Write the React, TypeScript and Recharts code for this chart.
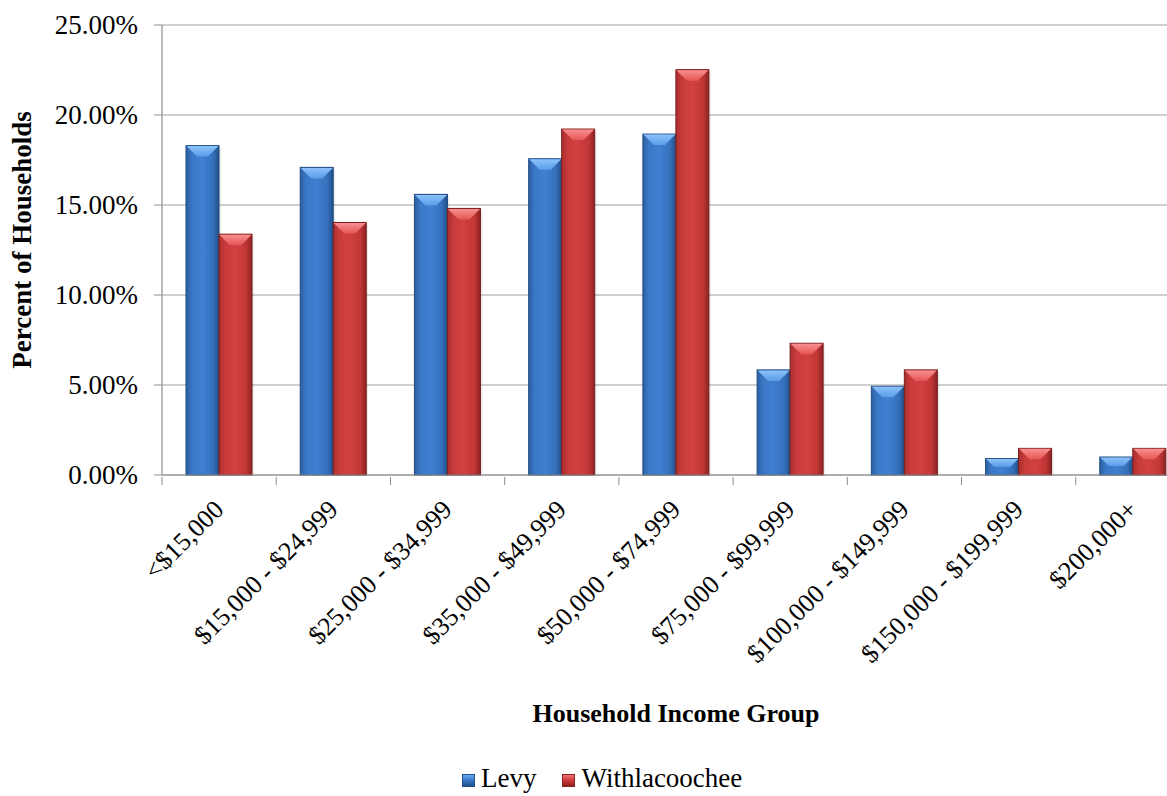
import { BarChart, Bar, XAxis, YAxis, CartesianGrid, Label } from "recharts"

const categories = [
  "<$15,000",
  "$15,000 - $24,999",
  "$25,000 - $34,999",
  "$35,000 - $49,999",
  "$50,000 - $74,999",
  "$75,000 - $99,999",
  "$100,000 - $149,999",
  "$150,000 - $199,999",
  "$200,000+",
]
const levy = [18.3, 17.09, 15.59, 17.57, 18.94, 5.84, 4.93, 0.91, 1.0]
const withlacoochee = [13.38, 14.03, 14.81, 19.22, 22.52, 7.32, 5.84, 1.48, 1.48]
const yTicks = [0, 5, 10, 15, 20, 25]

const data = categories.map((category, i) => ({
  category,
  levy: levy[i],
  withlacoochee: withlacoochee[i],
}))

const serif = "'Liberation Serif', 'Times New Roman', serif"

const CHART_W = 1230
const CHART_H = 796
const MARGIN = { top: 25, right: 40, bottom: 0, left: 0 }
const Y_AXIS_W = 162
const step = (CHART_W - MARGIN.left - MARGIN.right - Y_AXIS_W) / categories.length

const palette = {
  blue: { bevel: "url(#blueTop)", body: "url(#blueBody)", edge: "#1f4a80" },
  red: { bevel: "url(#redTop)", body: "url(#redBody)", edge: "#7a1c1c" },
}

function BevelBar(props: any) {
  const { x, y, width, height, scheme } = props
  if (!height || height <= 0) return null
  const c = palette[scheme as "blue" | "red"]
  const b = Math.min(11, height / 2, width / 3)
  return (
    <g>
      <rect x={x + 2} y={y + 2} width={width} height={height - 2} fill="rgba(0,0,0,0.08)" />
      <rect x={x} y={y} width={width} height={height} fill={c.body} stroke={c.edge} strokeWidth={1} />
      <polygon
        points={`${x + 0.5},${y + 0.5} ${x + width - 0.5},${y + 0.5} ${x + width - b},${y + b} ${x + b},${y + b}`}
        fill={c.bevel}
      />
    </g>
  )
}

function XTick(props: any) {
  const { x, y, payload } = props
  const bx = x - step / 2
  const ax = x + 6
  const ay = y + 28
  return (
    <g>
      <line x1={bx} y1={y - 6} x2={bx} y2={y + 2} stroke="#8c8c8c" strokeWidth={1} />
      <text
        x={ax}
        y={ay}
        textAnchor="end"
        transform={`rotate(-45, ${ax}, ${ay})`}
        style={{ fontFamily: serif, fontSize: 26, fill: "#000" }}
      >
        {payload.value}
      </text>
    </g>
  )
}

function YTick(props: any) {
  const { x, y, payload } = props
  return (
    <text
      x={x}
      y={y}
      textAnchor="end"
      dominantBaseline="central"
      style={{ fontFamily: serif, fontSize: 27, fill: "#000" }}
    >
      {`${payload.value.toFixed(2)}%`}
    </text>
  )
}

function YTitle() {
  const cx = 22
  const cy = 240
  return (
    <text
      x={cx}
      y={cy}
      textAnchor="middle"
      dominantBaseline="central"
      transform={`rotate(-90, ${cx}, ${cy})`}
      style={{ fontFamily: serif, fontWeight: "bold", fontSize: 27, fill: "#000" }}
    >
      Percent of Households
    </text>
  )
}

function LegendSwatch({ scheme }: { scheme: "blue" | "red" }) {
  const light = scheme === "blue" ? "#6aaaf0" : "#f07272"
  const mid = scheme === "blue" ? "#3a7bcc" : "#cf3d3d"
  const dark = scheme === "blue" ? "#22508a" : "#8e2222"
  return (
    <span
      style={{
        display: "inline-block",
        width: 11,
        height: 11,
        marginRight: 6,
        background: `linear-gradient(180deg, ${light} 0%, ${mid} 45%, ${dark} 100%)`,
        border: `1px solid ${dark}`,
      }}
    />
  )
}

export default function App() {
  return (
    <div
      style={{
        position: "fixed",
        left: 0,
        top: 0,
        width: 1167,
        height: 796,
        overflow: "hidden",
        background: "#fff",
      }}
    >
      <BarChart width={CHART_W} height={CHART_H} data={data} margin={MARGIN} barSize={33} barGap={0}>
        <defs>
          <linearGradient id="blueBody" x1="0" y1="0" x2="1" y2="0">
            <stop offset="0%" stopColor="#2c5f9f" />
            <stop offset="18%" stopColor="#3a78c6" />
            <stop offset="50%" stopColor="#3f80d1" />
            <stop offset="82%" stopColor="#3670bb" />
            <stop offset="100%" stopColor="#224f8a" />
          </linearGradient>
          <linearGradient id="redBody" x1="0" y1="0" x2="1" y2="0">
            <stop offset="0%" stopColor="#a82f2f" />
            <stop offset="18%" stopColor="#c93b3b" />
            <stop offset="50%" stopColor="#d24141" />
            <stop offset="82%" stopColor="#c23636" />
            <stop offset="100%" stopColor="#8c2323" />
          </linearGradient>
          <linearGradient id="blueTop" x1="0" y1="0" x2="0" y2="1">
            <stop offset="0%" stopColor="#8cc2fb" />
            <stop offset="100%" stopColor="#5a9ce8" />
          </linearGradient>
          <linearGradient id="redTop" x1="0" y1="0" x2="0" y2="1">
            <stop offset="0%" stopColor="#f89090" />
            <stop offset="100%" stopColor="#e65656" />
          </linearGradient>
        </defs>
        <CartesianGrid vertical={false} stroke="#a0a0a0" strokeWidth={1.2} />
        <XAxis
          dataKey="category"
          interval={0}
          height={CHART_H - MARGIN.top - 450}
          axisLine={{ stroke: "#8c8c8c", strokeWidth: 1.2 }}
          tickLine={false}
          tick={<XTick />}
        >
          <Label
            value="Household Income Group"
            position="insideBottom"
            offset={74}
            style={{ fontFamily: serif, fontWeight: "bold", fontSize: 26, fill: "#000" }}
          />
        </XAxis>
        <YAxis
          width={Y_AXIS_W}
          domain={[0, 25]}
          ticks={yTicks}
          interval={0}
          axisLine={{ stroke: "#8c8c8c", strokeWidth: 1.2 }}
          tickLine={{ stroke: "#8c8c8c" }}
          tickSize={8}
          tickMargin={16}
          tick={<YTick />}
          label={<YTitle />}
        />
        <Bar
          dataKey="levy"
          name="Levy"
          isAnimationActive={false}
          shape={(p: any) => <BevelBar {...p} scheme="blue" />}
        />
        <Bar
          dataKey="withlacoochee"
          name="Withlacoochee"
          isAnimationActive={false}
          shape={(p: any) => <BevelBar {...p} scheme="red" />}
        />
      </BarChart>
      <div
        style={{
          position: "absolute",
          left: 462,
          top: 764,
          display: "flex",
          alignItems: "baseline",
          fontFamily: serif,
          fontSize: 27,
          lineHeight: "28px",
          color: "#000",
          whiteSpace: "nowrap",
        }}
      >
        <LegendSwatch scheme="blue" />
        <span style={{ marginRight: 26 }}>Levy</span>
        <LegendSwatch scheme="red" />
        <span>Withlacoochee</span>
      </div>
    </div>
  )
}
